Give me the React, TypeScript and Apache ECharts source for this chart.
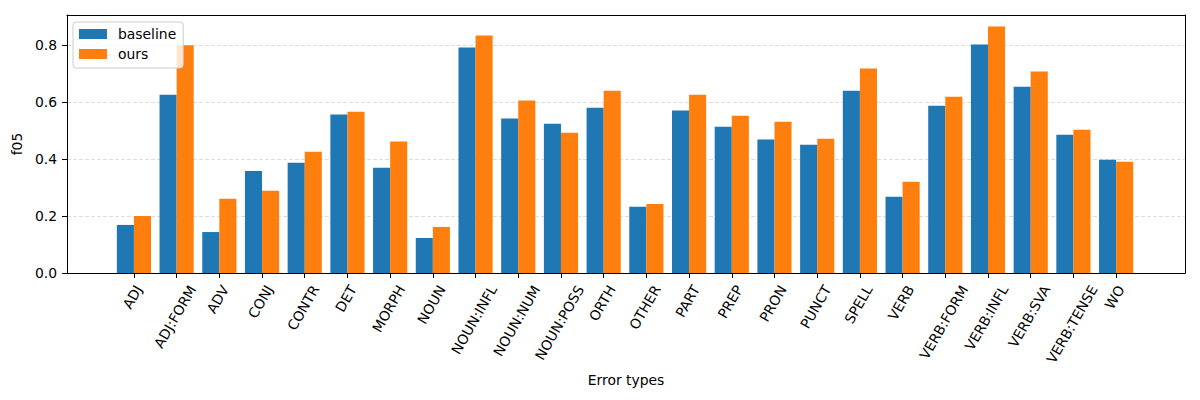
import React, { useEffect, useRef } from "react";
import * as echarts from "echarts";

const categories = [
  "ADJ", "ADJ:FORM", "ADV", "CONJ", "CONTR", "DET", "MORPH", "NOUN",
  "NOUN:INFL", "NOUN:NUM", "NOUN:POSS", "ORTH", "OTHER", "PART", "PREP",
  "PRON", "PUNCT", "SPELL", "VERB", "VERB:FORM", "VERB:INFL", "VERB:SVA",
  "VERB:TENSE", "WO",
];
const baseline = [
  0.169, 0.627, 0.144, 0.359, 0.388, 0.557, 0.370, 0.123,
  0.793, 0.543, 0.525, 0.581, 0.233, 0.571, 0.514,
  0.469, 0.451, 0.641, 0.268, 0.588, 0.803, 0.655,
  0.486, 0.398,
];
const ours = [
  0.200, 0.801, 0.261, 0.289, 0.426, 0.567, 0.462, 0.162,
  0.835, 0.606, 0.493, 0.641, 0.243, 0.627, 0.553,
  0.532, 0.472, 0.719, 0.321, 0.620, 0.867, 0.708,
  0.504, 0.391,
];
const seriesNames = ["baseline", "ours"];
const yTickStep = 0.2;
const yMax = 0.907;
const xMin = -1.567;
const xMax = 24.613;

export default function App() {
  const ref = useRef<HTMLDivElement>(null);
  useEffect(() => {
    if (!ref.current) return;
    const chart = echarts.init(ref.current, null, { renderer: "svg" });
    const font = "DejaVu Sans";
    const fs = 13.9;
    const idx = categories.map((_, i) => i);
    const gridLeft = 67, gridRight = 15;
    const plotW = 1200 - gridLeft - gridRight;
    const unitPx = plotW / (xMax - xMin);
    const barW = 0.4 * unitPx;
    const canvas = document.createElement("canvas");
    const ctx = canvas.getContext("2d")!;
    ctx.font = `${fs}px '${font}'`;
    const rich: Record<string, any> = {};
    categories.forEach((c, i) => {
      const L = ctx.measureText(c).width;
      const X = 0.25 * L - 1.5;
      const Yt = 13.5;
      let R = (Yt - 0.577 * X) / 1.1547;
      if (R < 0) R = 0;
      const T = (X + 0.5 * R) / 0.433;
      rich["r" + i] = { fontSize: fs, fontFamily: font, color: "#000", padding: [T, R, 0, 0] };
    });
    const toPairs = (arr: number[]) => arr.map((v, i) => [i, v]);
    const edgeAxis = {
      show: true, z: 10,
      axisLine: { show: true, onZero: false, lineStyle: { color: "#000", width: 1 } },
      axisTick: { show: false }, axisLabel: { show: false }, splitLine: { show: false },
    };
    chart.setOption({
      animation: false,
      textStyle: { fontFamily: font },
      grid: { left: gridLeft, right: gridRight, top: 15, bottom: 127 },
      legend: {
        orient: "vertical", left: 73, top: 22, padding: [5, 7, 7, 6], itemGap: 6,
        itemWidth: 28, itemHeight: 10, icon: "rect",
        borderColor: "#cccccc", borderWidth: 1, borderRadius: 3,
        backgroundColor: "rgba(255,255,255,0.8)",
        textStyle: { fontSize: fs, fontFamily: font, color: "#000", padding: [0, 0, 0, 6] },
        data: seriesNames,
      },
      xAxis: [
        {
          type: "value", min: xMin, max: xMax,
          name: "Error types", nameLocation: "middle", nameGap: 97,
          nameTextStyle: { fontSize: fs, fontFamily: font, color: "#000", verticalAlign: "top" },
          axisLine: { show: true, onZero: false, lineStyle: { color: "#000", width: 1 } },
          axisTick: { show: true, length: 5, lineStyle: { color: "#000" }, customValues: idx },
          axisLabel: {
            rotate: 60, margin: 0, customValues: idx,
            formatter: (v: number) => `{r${v}|${categories[v]}}`, rich,
          },
          splitLine: { show: false },
        },
        { ...edgeAxis, type: "value", position: "top", min: xMin, max: xMax },
      ],
      yAxis: [
        {
          type: "value", min: 0, max: yMax, interval: yTickStep,
          name: "f05", nameLocation: "middle", nameGap: 41,
          nameTextStyle: { fontSize: fs, fontFamily: font, color: "#000" },
          axisLine: { show: true, onZero: false, lineStyle: { color: "#000", width: 1 } },
          axisTick: { show: true, length: 5, lineStyle: { color: "#000" } },
          axisLabel: {
            fontSize: fs, fontFamily: font, color: "#000", margin: 10,
            formatter: (v: number) => v.toFixed(1), showMaxLabel: false,
          },
          splitLine: { show: true, lineStyle: { color: "#dddddd", type: [4, 2], width: 1 } },
        },
        { ...edgeAxis, type: "value", position: "right", min: 0, max: yMax },
      ],
      series: [
        { name: seriesNames[0], type: "bar", data: toPairs(baseline), barWidth: barW, barGap: "0%", itemStyle: { color: "#1f77b4" } },
        { name: seriesNames[1], type: "bar", data: toPairs(ours), barWidth: barW, barGap: "0%", itemStyle: { color: "#ff7f0e" } },
      ],
    });
    return () => chart.dispose();
  }, []);
  return (
    <div
      ref={ref}
      style={{ position: "fixed", left: 0, top: 0, width: 1200, height: 400, background: "#fff" }}
    />
  );
}
